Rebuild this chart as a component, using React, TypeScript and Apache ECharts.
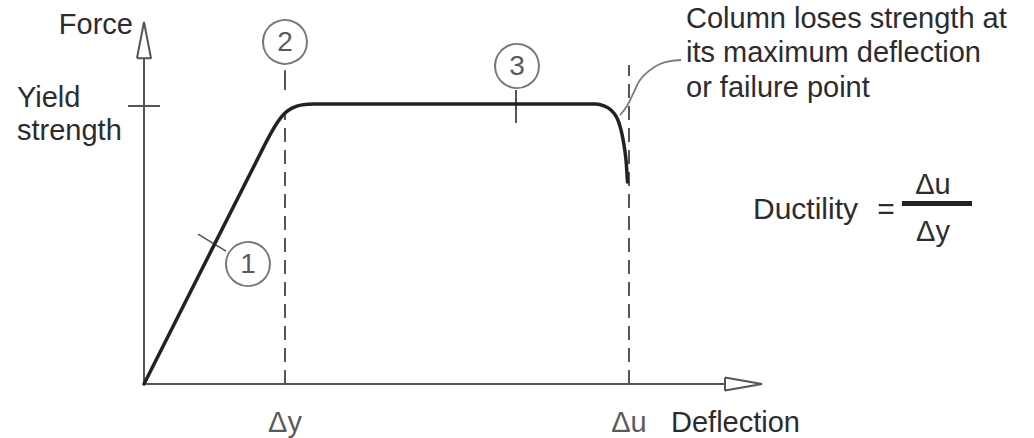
import React, { useEffect, useRef } from "react";
import * as echarts from "echarts";

// ---- data (abstract units: deflection 0..103, force 0..100) ----
const curveDeflection = [0, 19.67, 21, 22.17, 23.33, 24.67, 26.33, 28.5, 75.33, 76.67, 77.83, 78.83, 79.5, 80, 80.33, 80.58];
const curveForce = [0, 64.6, 68.8, 72.1, 74.6, 76.2, 77.1, 77.35, 77.35, 76.8, 75.7, 73.5, 70.2, 66.0, 61.9, 55.8];

const deltaY = 23.5;
const deltaU = 80.83;
const yieldStrength = 76.8;
const deltaYLineTop = 74.3;
const deltaULineTop = 88.1;

const leaderX = [79.33, 80.5, 81.67, 82.67, 84.33, 86.0, 87.67, 89.5];
const leaderY = [74.3, 76.8, 80.7, 84.0, 86.7, 88.4, 89.2, 89.5];

const markerNames = ["1", "2", "3"];
const markerX = [17.33, 23.5, 62.17];
const markerY = [33.15, 94.5, 87.85];

const tickLabels = ["Δy", "Δu"];
const tickValues = [deltaY, deltaU];

const axisXEnd = 96.83;
const axisYEnd = 90;
const axisXMin = -24;
const axisXMax = 103;
const axisYMax = 100;

const FONT = '"Liberation Sans", Arial, Helvetica, sans-serif';
const TEXT = "#2c2c30";
const GRAY = "#555555";

function seg(name: string, data: number[][], color: string, width: number, type: any = "solid") {
  return {
    name,
    type: "line",
    data,
    symbol: "none",
    clip: false,
    silent: true,
    lineStyle: { color, width, type, cap: "butt" },
    z: 2,
  };
}

export default function App() {
  const ref = useRef<HTMLDivElement>(null);
  useEffect(() => {
    document.body.style.margin = "0";
    if (!ref.current) return;
    const chart = echarts.init(ref.current, null, { renderer: "svg" });
    const curve = curveDeflection.map((x, i) => [x, curveForce[i]]);
    const leader = leaderX.map((x, i) => [x, leaderY[i]]);
    const txt = (text: string, x: number, y: number, align: string = "left", size = 29) => ({
      type: "text",
      x,
      y,
      silent: true,
      style: { text, fill: TEXT, font: `${size}px ${FONT}`, align, verticalAlign: "middle" },
    });
    chart.setOption({
      animation: false,
      backgroundColor: "#ffffff",
      grid: { left: 0, top: 22, width: 762, height: 362 },
      xAxis: {
        type: "value",
        min: axisXMin,
        max: axisXMax,
        show: false,
      },
      yAxis: {
        type: "value",
        min: 0,
        max: axisYMax,
        show: false,
      },
      series: [
        seg("xAxisLine", [[0, 0], [axisXEnd, 0]], GRAY, 2),
        seg("yAxisLine", [[0, 0], [0, axisYEnd]], GRAY, 2),
        seg("xArrow", [[axisXEnd, 1.8], [axisXMax, 0], [axisXEnd, -1.8], [axisXEnd, 1.8]], GRAY, 2),
        seg("yArrow", [[-1.17, axisYEnd], [0, axisYMax], [1.17, axisYEnd], [-1.17, axisYEnd]], GRAY, 2),
        seg("yieldTick", [[-2.67, yieldStrength], [2.67, yieldStrength]], GRAY, 2),
        seg("deltaYLine", [[deltaY, 0], [deltaY, deltaYLineTop]], GRAY, 2, [14, 8]),
        seg("deltaULine", [[deltaU, 0], [deltaU, deltaULineTop]], GRAY, 2, [14, 8]),
        seg("tick2", [[deltaY, 81.2], [deltaY, 86.7]], GRAY, 2),
        seg("tick3", [[62, 72.1], [62, 81.2]], GRAY, 2),
        seg("tick1", [[9, 41.4], [13.67, 36.7]], GRAY, 1.6),
        {
          name: "Force-deflection",
          type: "line",
          data: curve,
          symbol: "none",
          smooth: 0.3,
          clip: false,
          lineStyle: { color: "#222222", width: 3.5, join: "round", cap: "round" },
          z: 3,
        },
        {
          name: "leader",
          type: "line",
          data: leader,
          symbol: "none",
          smooth: 0.4,
          clip: false,
          lineStyle: { color: "#7a7a7a", width: 1.8 },
          z: 2,
        },
        {
          name: "markers",
          type: "scatter",
          data: markerNames.map((n, i) => ({ name: n, value: [markerX[i], markerY[i]] })),
          symbol: "circle",
          symbolSize: 44,
          clip: false,
          itemStyle: { color: "#ffffff", borderColor: "#555555", borderWidth: 2 },
          label: {
            show: true,
            position: "inside",
            formatter: "{b}",
            color: TEXT,
            fontSize: 28,
            fontFamily: FONT,
          },
          z: 4,
        },
        {
          name: "tickLabels",
          type: "scatter",
          data: tickLabels.map((n, i) => ({ name: n, value: [tickValues[i], 0] })),
          symbolSize: 0,
          clip: false,
          label: {
            show: true,
            position: "inside",
            offset: [0, 38],
            formatter: "{b}",
            color: TEXT,
            fontSize: 29,
            fontFamily: FONT,
          },
          z: 4,
        },
      ],
      graphic: [
        txt("Force", 133, 24, "right"),
        txt("Yield", 17, 97),
        txt("strength", 17, 130),
        txt("Deflection", 671, 422),
        txt("Column loses strength at", 686, 18),
        txt("its maximum deflection", 686, 52),
        txt("or failure point", 686, 87),
        txt("Ductility", 753, 208, "left", 30),
        txt("=", 886, 208, "center", 30),
        {
          type: "rect",
          shape: { x: 902, y: 201, width: 70, height: 5 },
          style: { fill: "#222222" },
          silent: true,
        },
        txt("Δu", 933, 184, "center"),
        txt("Δy", 933, 231, "center"),
      ],
    });
    return () => chart.dispose();
  }, []);
  return <div ref={ref} style={{ width: 1034, height: 438 }} />;
}
